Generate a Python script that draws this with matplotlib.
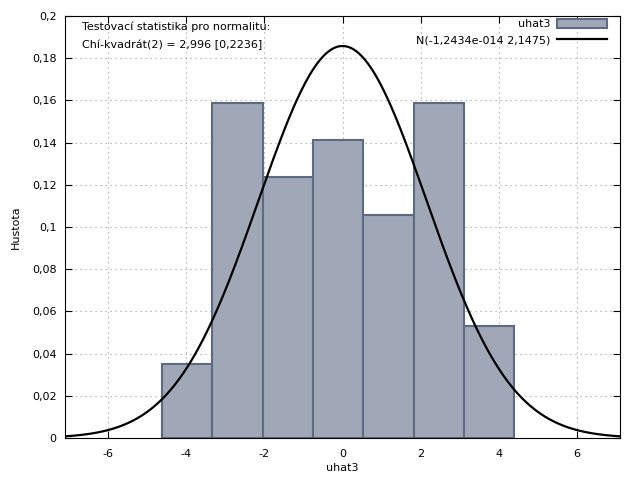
import numpy as np
import matplotlib
matplotlib.use("Agg")
import matplotlib.pyplot as plt
from matplotlib.patches import Patch
from matplotlib.lines import Line2D

# Data
bin_left_edge = -4.62
bin_width = 1.288
counts = [2, 9, 7, 8, 6, 9, 3]
n_obs = 44
mu = -1.2434e-14
sigma = 2.1475
xticks = [-6, -4, -2, 0, 2, 4, 6]
yticks = [0, 0.02, 0.04, 0.06, 0.08, 0.1, 0.12, 0.14, 0.16, 0.18, 0.2]
ytick_labels = ["0", "0,02", "0,04", "0,06", "0,08", "0,1", "0,12", "0,14", "0,16", "0,18", "0,2"]

plt.rcParams['font.family'] = ['DejaVu Sans']
fig = plt.figure(figsize=(6.4, 4.8), dpi=100)
ax = fig.add_axes([0.1016, 0.0875, 0.8672, 0.8792])

edges = bin_left_edge + bin_width * np.arange(len(counts) + 1)
dens = np.array(counts) / (n_obs * bin_width)
ax.bar(edges[:-1], dens, width=bin_width, align='edge', color='#a0a7b6',
       edgecolor='#5d6a84', linewidth=1.5, zorder=2)

xs = np.linspace(-7.1, 7.1, 600)
ys = np.exp(-0.5 * ((xs - mu) / sigma) ** 2) / (sigma * np.sqrt(2 * np.pi))
ax.plot(xs, ys, color='black', linewidth=1.6, zorder=3)

ax.set_xlim(-7.1, 7.1)
ax.set_ylim(0, 0.2)
ax.set_xticks(xticks)
ax.set_xticklabels([str(t) for t in xticks])
ax.set_yticks(yticks)
ax.set_yticklabels(ytick_labels)
ax.tick_params(direction='in', top=True, right=True, labelsize=8, length=5)
ax.tick_params(axis='x', pad=8)
ax.tick_params(axis='y', pad=6)
ax.grid(True, linestyle=(0, (1, 3.5)), color='#999999', linewidth=0.8, zorder=0)
ax.set_axisbelow(True)
ax.set_xlabel('uhat3', fontsize=8, labelpad=3)
ax.set_ylabel('Hustota', fontsize=8, labelpad=8)

ax.text(0.03, 0.987, 'Testovací statistika pro normalitu:\nChí-kvadrát(2) = 2,996 [0,2236]',
        transform=ax.transAxes, fontsize=8, va='top', ha='left', linespacing=1.95)

handles = [Patch(facecolor='#a0a7b6', edgecolor='#5d6a84', linewidth=1.5),
           Line2D([0], [0], color='black', linewidth=1.6)]
ax.legend(handles, ['uhat3', 'N(-1,2434e-014 2,1475)'], loc='upper right',
          bbox_to_anchor=(0.978, 0.995),
          markerfirst=False, frameon=False, fontsize=8, handlelength=4.5,
          borderaxespad=0.0, borderpad=0.1, labelspacing=0.55, handleheight=0.8,
          handletextpad=0.6)

fig.savefig('out.png', dpi=100)
